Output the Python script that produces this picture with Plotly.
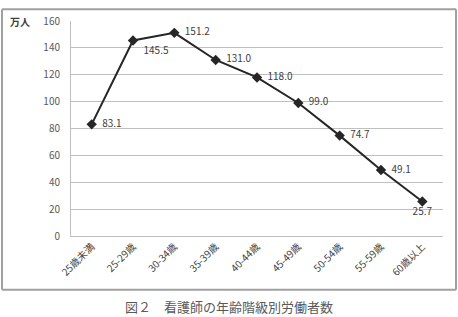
import plotly.graph_objects as go

categories = ["25歳未満", "25-29歳", "30-34歳", "35-39歳", "40-44歳", "45-49歳", "50-54歳", "55-59歳", "60歳以上"]
values = [83.1, 145.5, 151.2, 131.0, 118.0, 99.0, 74.7, 49.1, 25.7]
label_texts = ["  " + f"{v:.1f}" for v in values[:-1]] + [f"{values[-1]:.1f}"]
label_pos = ["middle right", "bottom right", "middle right", "middle right", "middle right",
             "middle right", "middle right", "middle right", "bottom center"]
y_ticks = [0, 20, 40, 60, 80, 100, 120, 140, 160]

FONT = "Noto Sans CJK JP, Noto Sans, sans-serif"

fig = go.Figure()
fig.add_trace(go.Scatter(
    x=categories, y=values,
    mode="lines+markers+text",
    line=dict(color="#262626", width=2),
    marker=dict(symbol="diamond", size=8, color="#262626"),
    text=label_texts, textposition=label_pos,
    textfont=dict(family=FONT, size=10, color="#404040"),
    cliponaxis=False, showlegend=False,
))

L, R, T, B = 71, 15, 16, 81
W, H = 458, 317
pw, ph = W - L - R, H - T - B

def px_x(x):
    return (x - L) / pw

def px_y(y):
    return (H - B - y) / ph

fig.update_layout(
    width=W, height=H,
    margin=dict(l=L, r=R, t=T, b=B),
    paper_bgcolor="white", plot_bgcolor="white",
    font=dict(family=FONT, size=10, color="#595959"),
    xaxis=dict(
        type="category", tickangle=-45, showgrid=False,
        showline=True, linecolor="#bfbfbf", linewidth=1,
        ticks="", tickfont=dict(size=10, color="#404040"),
        range=[-0.5, len(categories) - 0.5],
    ),
    yaxis=dict(
        range=[0, 160], tickvals=y_ticks, showgrid=True, gridcolor="#bfbfbf", gridwidth=1,
        showline=True, linecolor="#bfbfbf", linewidth=1, zeroline=False,
        ticks="", ticklabelstandoff=8, tickfont=dict(size=10, color="#595959"),
    ),
    annotations=[
        dict(text="<b>万人</b>", xref="paper", yref="paper", x=px_x(8), y=px_y(17),
             xanchor="left", yanchor="middle", showarrow=False,
             font=dict(size=10, color="#404040")),
        dict(text="図２　看護師の年齢階級別労働者数", xref="paper", yref="paper",
             x=px_x(229), y=px_y(308), xanchor="center", yanchor="middle", showarrow=False,
             font=dict(size=13, color="#595959")),
    ],
)
fx0, fx1, fy0, fy1 = px_x(2), px_x(456), px_y(291), px_y(4)
frame_line = dict(color="#a0a0a0", width=2)
for (a, b, c, d) in [(fx0, fy1, fx1, fy1), (fx0, fy0, fx1, fy0), (fx0, fy0, fx0, fy1), (fx1, fy0, fx1, fy1)]:
    fig.add_shape(type="line", xref="paper", yref="paper", x0=a, y0=b, x1=c, y1=d,
                  line=frame_line, layer="above")

fig.write_html("out.html")
